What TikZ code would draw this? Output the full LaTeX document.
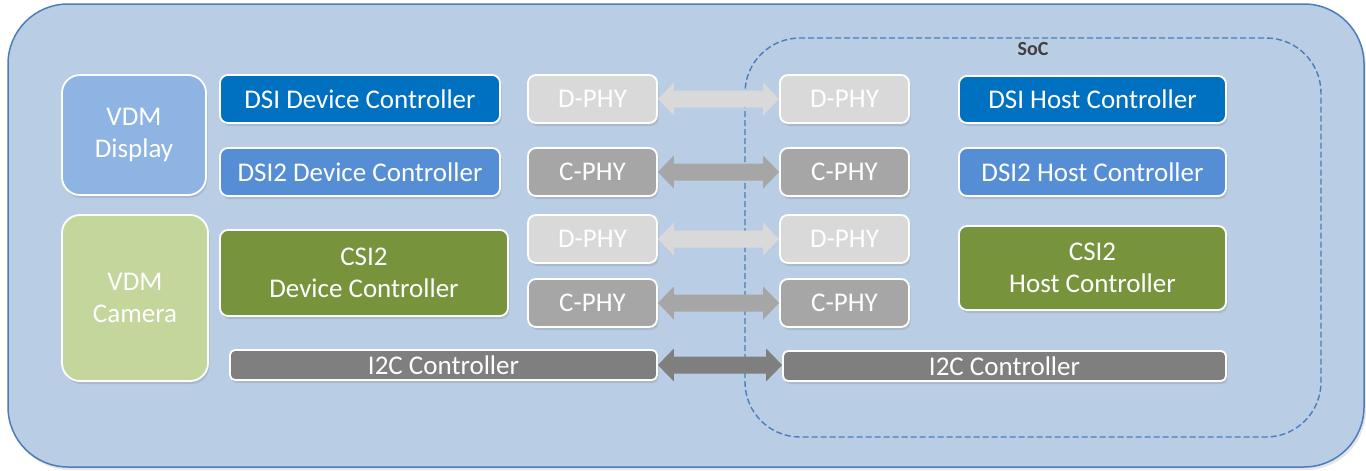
\documentclass[tikz,border=0pt]{standalone}
\usepackage{fontspec}
\setmainfont{Carlito}
\usetikzlibrary{shadows,calc}
\definecolor{outerfill}{HTML}{B9CDE5}
\definecolor{outerline}{HTML}{4A7EBB}
\definecolor{vdmdisp}{HTML}{8EB4E3}
\definecolor{vdmcam}{HTML}{C3D69B}
\definecolor{dsiblue}{HTML}{0070C0}
\definecolor{dsitwo}{HTML}{558ED5}
\definecolor{csigreen}{HTML}{77933C}
\definecolor{dphyc}{HTML}{D9D9D9}
\definecolor{cphyc}{HTML}{A6A6A6}
\definecolor{i2cc}{HTML}{7F7F7F}
\definecolor{soctext}{HTML}{404040}
\newcommand\dblarrow[3]{%
  \path[fill=#3] let \p1=(#1.east), \p2=(#2.west) in
    (\x1,\y1) -- (\x1+16pt,\y1+16.5pt) -- (\x1+16pt,\y1+8.5pt) -- (\x2-16pt,\y1+8.5pt)
    -- (\x2-16pt,\y1+16.5pt) -- (\x2,\y1) -- (\x2-16pt,\y1-16.5pt) -- (\x2-16pt,\y1-8.5pt)
    -- (\x1+16pt,\y1-8.5pt) -- (\x1+16pt,\y1-16.5pt) -- cycle;}
\begin{document}
\begin{tikzpicture}[x=1pt,y=-1pt,
  box/.style={draw=white, line width=1.8pt, rounded corners=8pt, text=white,
    font=\fontsize{27}{32}\selectfont, align=center, inner sep=0pt,
    drop shadow={opacity=0.25,shadow xshift=1.5pt,shadow yshift=-3pt}},
  vdm/.style={box, rounded corners=18pt},
  bar/.style={box, rounded corners=5pt},
]
\useasboundingbox (0,0) rectangle (1366,471);
\fill[white] (0,0) rectangle (1366,471);
% outer box
\draw[fill=outerfill, draw=outerline, line width=1.5pt, rounded corners=60pt,
  drop shadow={opacity=0.2,shadow xshift=2pt,shadow yshift=-3pt}]
  (8,4) rectangle (1364,467);
% SoC
\draw[outerline, line width=1.4pt, dash pattern=on 6pt off 3pt, rounded corners=55pt]
  (745,38) rectangle (1321,437);
\node[font=\fontsize{20}{22}\selectfont\bfseries, text=soctext] (soc) at (1033,49) {SoC};

% left side
\node[vdm, fill=vdmdisp, minimum width=144pt, minimum height=120pt] (vdmD) at (134,135) {VDM\\Display};
\node[vdm, fill=vdmcam, minimum width=146pt, minimum height=166pt] (vdmC) at (135,298) {VDM\\Camera};
\node[box, fill=dsiblue, minimum width=280pt, minimum height=48pt] (dsiD) at (360,99) {DSI Device Controller};
\node[box, fill=dsitwo, minimum width=280pt, minimum height=48pt] (dsiTD) at (360,172) {DSI2 Device Controller};
\node[box, fill=csigreen, minimum width=288pt, minimum height=86pt] (csiD) at (364,273) {CSI2\\Device Controller};
\node[bar, fill=i2cc, minimum width=427pt, minimum height=30pt] (i2cD) at (443.5,365) {I2C Controller};

% PHYs
\node[box, fill=dphyc, minimum width=129pt, minimum height=48pt] (dphyAL) at (592.5,99) {D-PHY};
\node[box, fill=cphyc, minimum width=129pt, minimum height=48pt] (cphyAL) at (592.5,172) {C-PHY};
\node[box, fill=dphyc, minimum width=129pt, minimum height=48pt] (dphyBL) at (592.5,239) {D-PHY};
\node[box, fill=cphyc, minimum width=129pt, minimum height=48pt] (cphyBL) at (592.5,303) {C-PHY};
\node[box, fill=dphyc, minimum width=129pt, minimum height=48pt] (dphyAR) at (844.5,99) {D-PHY};
\node[box, fill=cphyc, minimum width=129pt, minimum height=48pt] (cphyAR) at (844.5,172) {C-PHY};
\node[box, fill=dphyc, minimum width=129pt, minimum height=48pt] (dphyBR) at (844.5,239) {D-PHY};
\node[box, fill=cphyc, minimum width=129pt, minimum height=48pt] (cphyBR) at (844.5,303) {C-PHY};

% host side
\node[box, fill=dsiblue, minimum width=267pt, minimum height=47pt] (dsiH) at (1092.5,99.5) {DSI Host Controller};
\node[box, fill=dsitwo, minimum width=267pt, minimum height=48pt] (dsiTH) at (1092.5,172) {DSI2 Host Controller};
\node[box, fill=csigreen, minimum width=267pt, minimum height=84pt] (csiH) at (1092.5,268) {CSI2\\Host Controller};
\node[bar, fill=i2cc, minimum width=443pt, minimum height=30pt] (i2cH) at (1004.5,366) {I2C Controller};

% arrows
\dblarrow{dphyAL}{dphyAR}{dphyc}
\dblarrow{cphyAL}{cphyAR}{cphyc}
\dblarrow{dphyBL}{dphyBR}{dphyc}
\dblarrow{cphyBL}{cphyBR}{cphyc}
\dblarrow{i2cD}{i2cH}{i2cc}
\end{tikzpicture}
\end{document}
